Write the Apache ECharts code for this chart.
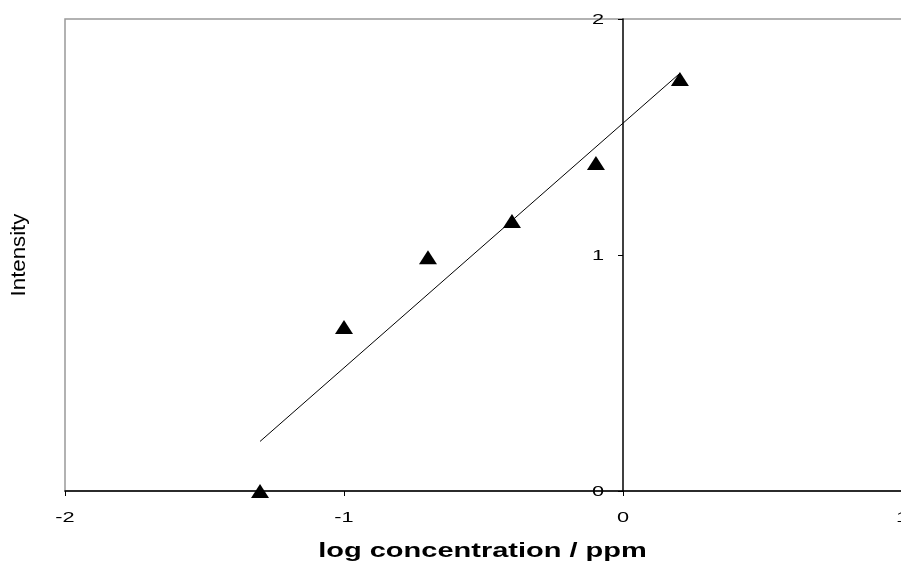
<!DOCTYPE html>
<html>
<head>
<meta charset="utf-8">
<script src="https://cdn.jsdelivr.net/npm/echarts@6/dist/echarts.min.js"></script>
<style>html,body{margin:0;padding:0;background:#fff}#c{width:901px;height:562px}</style>
</head>
<body>
<div id="c"></div>
<script>
var logConc = [-1.301, -1.0, -0.699, -0.398, -0.097, 0.204];
var intensity = [0.0, 0.695, 0.99, 1.144, 1.39, 1.746];
var fitLine = [[-1.301, 0.21], [0.204, 1.77]];
var xTicks = [-2, -1, 0, 1];
var yTicks = [0, 1, 2];
var xTitle = 'log concentration / ppm';
var yTitle = 'Intensity';

var chart = echarts.init(document.getElementById('c'));
var pts = logConc.map(function (x, i) { return [x, intensity[i]]; });
var gridLeft = 65, gridWidth = 837;
var xMin = xTicks[0], xMax = xTicks[xTicks.length - 1];
var yMin = yTicks[0], yMax = yTicks[yTicks.length - 1];
// y axis sits at x = 0: offset computed from the x scale
var yAxisOffset = -gridWidth * (0 - xMin) / (xMax - xMin);
var STRETCH = 1.45; // the reference is stretched horizontally
var FONT = 'Liberation Sans';

chart.setOption({
  animation: false,
  grid: { left: gridLeft, top: 19, width: gridWidth, height: 472, outerBoundsMode: 'none', containLabel: false,
          show: true, borderColor: '#999', borderWidth: 1.5, backgroundColor: 'transparent' },
  xAxis: {
    type: 'value', min: xMin, max: xMax, interval: 1,
    axisLine: { onZero: false, lineStyle: { color: '#000', width: 1.5 } },
    axisTick: { show: true, length: 5, lineStyle: { color: '#000' } },
    axisLabel: { show: false },
    splitLine: { show: false }
  },
  yAxis: {
    type: 'value', min: yMin, max: yMax, interval: 1,
    position: 'left', offset: yAxisOffset,
    axisLine: { onZero: false, lineStyle: { color: '#000', width: 1.5 } },
    axisTick: { show: true, length: 5, lineStyle: { color: '#000' } },
    axisLabel: { show: false },
    splitLine: { show: false }
  },
  series: [
    { type: 'line', data: fitLine, showSymbol: false, symbol: 'none', lineStyle: { color: '#000', width: 1 }, silent: true },
    { type: 'scatter', data: pts, symbol: 'triangle', symbolSize: [18, 14], itemStyle: { color: '#000', opacity: 1 } }
  ]
});

// Tick labels and titles placed through the library's own scales
var g = [];
xTicks.forEach(function (v) {
  var p = chart.convertToPixel({ gridIndex: 0 }, [v, yMin]);
  g.push({ type: 'text', x: p[0], y: p[1] + 27, scaleX: STRETCH,
    style: { text: String(v), fontFamily: FONT, fontSize: 15, fill: '#000', align: 'center', verticalAlign: 'middle' } });
});
var yAxisX = chart.convertToPixel({ gridIndex: 0 }, [0, 0])[0];
yTicks.forEach(function (v) {
  var p = chart.convertToPixel({ gridIndex: 0 }, [0, v]);
  g.push({ type: 'text', x: yAxisX - 19, y: p[1] + 1, scaleX: STRETCH,
    style: { text: String(v), fontFamily: FONT, fontSize: 15, fill: '#000', align: 'right', verticalAlign: 'middle' } });
});
g.push({ type: 'text', x: 482.5, y: 551, scaleX: STRETCH,
  style: { text: xTitle, fontFamily: FONT, fontSize: 20, fontWeight: 'bold', fill: '#000', align: 'center', verticalAlign: 'middle' } });
g.push({ type: 'text', x: 20, y: 255, rotation: Math.PI / 2, scaleX: 1.14, scaleY: 1,
  style: { text: yTitle, fontFamily: FONT, fontSize: 19.5, fill: '#000', align: 'center', verticalAlign: 'middle' } });
chart.setOption({ graphic: g });
</script>
</body>
</html>
